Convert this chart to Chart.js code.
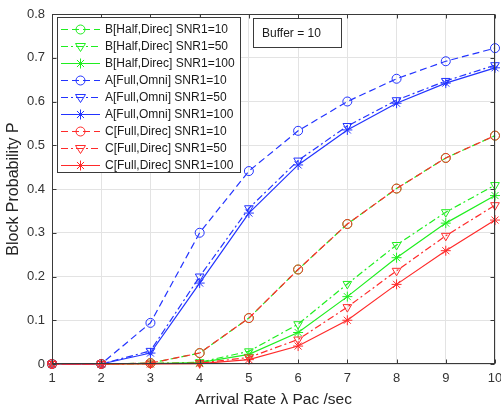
<!DOCTYPE html>
<html><head><meta charset="utf-8">
<script src="https://cdn.jsdelivr.net/npm/chart.js@4/dist/chart.umd.min.js"></script>
<style>html,body{margin:0;padding:0;background:#fff}#wrap{width:501px;height:409px}</style>
</head><body><div id="wrap"><canvas id="c" width="501" height="409"></canvas></div>
<script>
const arrivalRates = [1, 2, 3, 4, 5, 6, 7, 8, 9, 10];
const yTickValues = [0, 0.1, 0.2, 0.3, 0.4, 0.5, 0.6, 0.7, 0.8];
const seriesLabels = [
  'B[Half,Direc] SNR1=10', 'B[Half,Direc] SNR1=50', 'B[Half,Direc] SNR1=100',
  'A[Full,Omni] SNR1=10', 'A[Full,Omni] SNR1=50', 'A[Full,Omni] SNR1=100',
  'C[Full,Direc] SNR1=10', 'C[Full,Direc] SNR1=50', 'C[Full,Direc] SNR1=100'
];
const B_snr10  = [0, 0, 0.002, 0.025, 0.105, 0.216, 0.320, 0.401, 0.471, 0.522];
const B_snr50  = [0, 0, 0.001, 0.004, 0.029, 0.091, 0.183, 0.272, 0.347, 0.409];
const B_snr100 = [0, 0, 0.001, 0.003, 0.022, 0.072, 0.154, 0.243, 0.322, 0.385];
const A_snr10  = [0, 0, 0.094, 0.300, 0.441, 0.533, 0.600, 0.652, 0.692, 0.722];
const A_snr50  = [0, 0, 0.030, 0.200, 0.356, 0.465, 0.544, 0.603, 0.647, 0.683];
const A_snr100 = [0, 0, 0.025, 0.185, 0.345, 0.455, 0.535, 0.596, 0.642, 0.677];
const C_snr10  = [0, 0, 0.002, 0.025, 0.105, 0.216, 0.320, 0.401, 0.471, 0.522];
const C_snr50  = [0, 0, 0.001, 0.002, 0.015, 0.056, 0.130, 0.213, 0.293, 0.363];
const C_snr100 = [0, 0, 0.000, 0.001, 0.010, 0.041, 0.100, 0.182, 0.259, 0.329];
const annotationText = 'Buffer = 10';

const GREEN = '#1fee1f', BLUE = '#2233ff', RED = '#ff2a2a';
const DASH = [7, 4], DASHDOT = [7, 3, 2, 3], SOLID = [];
const FONT = '"Liberation Sans", Arial, sans-serif';

const styles = [
  {c: GREEN, d: DASH, m: 'circle', order: 2, off: 2},
  {c: GREEN, d: DASHDOT, m: 'triDown', order: 2, off: 0},
  {c: GREEN, d: SOLID, m: 'star', order: 2, off: 0},
  {c: BLUE, d: DASH, m: 'circle', order: 1, off: 0},
  {c: BLUE, d: DASHDOT, m: 'triDown', order: 1, off: 0},
  {c: BLUE, d: SOLID, m: 'star', order: 1, off: 0},
  {c: RED, d: DASH, m: 'circle', order: 0, off: 0},
  {c: RED, d: DASHDOT, m: 'triDown', order: 0, off: 0},
  {c: RED, d: SOLID, m: 'star', order: 0, off: 0}
];
const seriesData = [B_snr10, B_snr50, B_snr100, A_snr10, A_snr50, A_snr100, C_snr10, C_snr50, C_snr100];

const datasets = seriesData.map((arr, i) => {
  const s = styles[i];
  return {
    label: seriesLabels[i],
    data: arrivalRates.map((x, k) => ({x: x, y: arr[k]})),
    borderColor: s.c,
    backgroundColor: 'rgba(0,0,0,0)',
    borderWidth: 1.2,
    borderDash: s.d,
    borderDashOffset: s.off,
    tension: 0,
    clip: false,
    pointStyle: s.m === 'circle' ? 'circle' : (s.m === 'triDown' ? 'triangle' : 'star'),
    pointRotation: s.m === 'triDown' ? 180 : 0,
    pointRadius: s.m === 'circle' ? 4.5 : 5,
    pointBorderColor: s.c,
    pointBackgroundColor: 'rgba(0,0,0,0)',
    pointBorderWidth: 1,
    order: s.order
  };
});

function drawMarker(ctx, type, x, y, color) {
  ctx.save();
  ctx.strokeStyle = color; ctx.lineWidth = 1; ctx.setLineDash([]);
  ctx.beginPath();
  if (type === 'circle') {
    ctx.arc(x, y, 4.5, 0, Math.PI * 2);
  } else if (type === 'triDown') {
    const r = 5;
    ctx.moveTo(x, y + r);
    ctx.lineTo(x - r * 0.866 * 1.15, y - r * 0.6);
    ctx.lineTo(x + r * 0.866 * 1.15, y - r * 0.6);
    ctx.closePath();
  } else {
    const r = 5;
    for (let a = 0; a < 4; a++) {
      const ang = a * Math.PI / 4;
      ctx.moveTo(x - Math.sin(ang) * r, y + Math.cos(ang) * r);
      ctx.lineTo(x + Math.sin(ang) * r, y - Math.cos(ang) * r);
    }
  }
  ctx.stroke();
  ctx.restore();
}

const framePlugin = {
  id: 'frame',
  afterDatasetsDraw(chart) {
    const {ctx, chartArea: a, scales: {x, y}} = chart;
    ctx.save();
    ctx.strokeStyle = '#3a3a3a'; ctx.lineWidth = 1; ctx.setLineDash([]);
    const L = Math.round(a.left) + 0.5, R = Math.round(a.right) - 0.5;
    const T = Math.round(a.top) + 0.5, B = Math.round(a.bottom) - 0.5;
    ctx.strokeRect(L, T, R - L, B - T);
    ctx.beginPath();
    arrivalRates.forEach(v => {
      const px = Math.round(x.getPixelForValue(v)) + 0.5;
      ctx.moveTo(px, B); ctx.lineTo(px, B - 4);
      ctx.moveTo(px, T); ctx.lineTo(px, T + 4);
    });
    yTickValues.forEach(v => {
      const py = Math.round(y.getPixelForValue(v)) + 0.5;
      ctx.moveTo(L, py); ctx.lineTo(L + 4, py);
      ctx.moveTo(R, py); ctx.lineTo(R - 4, py);
    });
    ctx.stroke();
    ctx.restore();
  },
  afterDraw(chart) {
    const ctx = chart.ctx;
    ctx.save();
    const lx = 57.5, ly = 17.5, lw = 183, lh = 155;
    ctx.fillStyle = '#fff';
    ctx.fillRect(lx, ly, lw, lh);
    ctx.strokeStyle = '#3a3a3a'; ctx.lineWidth = 1;
    ctx.strokeRect(lx, ly, lw, lh);
    ctx.font = '12px ' + FONT;
    ctx.textBaseline = 'middle';
    ctx.textAlign = 'left';
    seriesLabels.forEach((lab, i) => {
      const s = styles[i];
      const yy = 29.5 + i * 17;
      ctx.strokeStyle = s.c; ctx.lineWidth = 1.2;
      ctx.setLineDash(s.d);
      ctx.beginPath(); ctx.moveTo(61, yy); ctx.lineTo(100, yy); ctx.stroke();
      ctx.setLineDash([]);
      drawMarker(ctx, s.m, 80.5, yy, s.c);
      ctx.fillStyle = '#1a1a1a';
      ctx.fillText(lab, 105, yy + 0.5);
    });
    ctx.fillStyle = '#fff';
    ctx.fillRect(253.5, 18.5, 88, 29);
    ctx.strokeStyle = '#3a3a3a'; ctx.lineWidth = 1; ctx.setLineDash([]);
    ctx.strokeRect(253.5, 18.5, 88, 29);
    ctx.fillStyle = '#1a1a1a';
    ctx.font = '12px ' + FONT;
    ctx.fillText(annotationText, 262, 33.5);
    ctx.restore();
  }
};

new Chart(document.getElementById('c'), {
  type: 'line',
  data: {datasets: datasets},
  options: {
    responsive: false,
    animation: false,
    devicePixelRatio: 1,
    layout: {padding: {left: 0, right: 2, top: 14, bottom: 0}},
    plugins: {legend: {display: false}, tooltip: {enabled: false}},
    scales: {
      x: {
        type: 'linear', min: 1, max: 10,
        afterBuildTicks: s => { s.ticks = arrivalRates.map(v => ({value: v})); },
        afterFit: s => { s.height = 45; s.paddingLeft = 0; s.paddingRight = 0; },
        grid: {color: '#e3e3e3', drawTicks: false},
        border: {display: false},
        ticks: {color: '#333', font: {size: 13, family: FONT}, padding: 7, maxRotation: 0, autoSkip: false},
        title: {display: true, text: 'Arrival Rate \u03bb Pac /sec', color: '#262626', font: {size: 15.5, family: FONT}, padding: {top: 2, bottom: 0}}
      },
      y: {
        type: 'linear', min: 0, max: 0.8,
        afterBuildTicks: s => { s.ticks = yTickValues.map(v => ({value: v})); },
        afterFit: s => { s.width = 52; s.paddingTop = 0; s.paddingBottom = 0; },
        grid: {color: '#e3e3e3', drawTicks: false},
        border: {display: false},
        ticks: {color: '#333', font: {size: 13, family: FONT}, padding: 7,
          callback: v => String(Number(v.toFixed(1)))},
        title: {display: true, text: 'Block Probability P', color: '#262626', font: {size: 16, family: FONT}, padding: {top: 4, bottom: 4}}
      }
    }
  },
  plugins: [framePlugin]
});
</script>
</body></html>
